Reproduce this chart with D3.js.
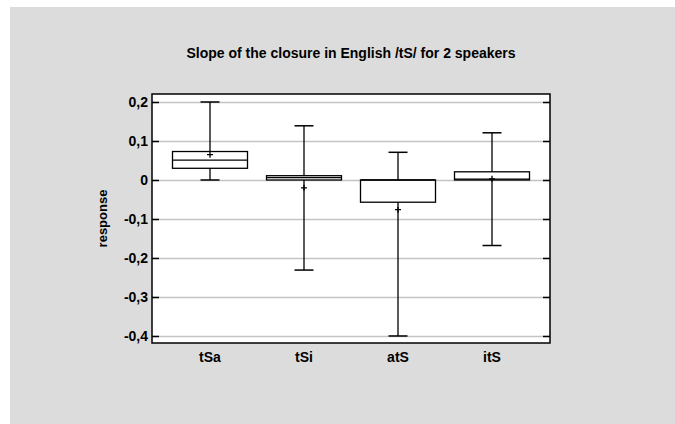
<!DOCTYPE html>
<html>
<head>
<meta charset="utf-8">
<script src="https://cdn.jsdelivr.net/npm/d3@7"></script>
<style>
  body { margin: 0; background: #fff; }
  text { font-family: "Liberation Sans", Arial, sans-serif; font-weight: bold; }
</style>
</head>
<body>
<div id="vis"></div>
<script>
// Data
const categories = ["tSa", "tSi", "atS", "itS"];
const whiskerLow  = [0.000, -0.231, -0.400, -0.168];
const q1Values    = [0.030,  0.000, -0.057,  0.000];
const medians     = [0.051,  0.006,  0.000,  0.002];
const q3Values    = [0.073,  0.011,  0.000,  0.021];
const whiskerHigh = [0.200,  0.139,  0.071,  0.121];
const means       = [0.065, -0.020, -0.076,  0.003];
const yTicks = [-0.4, -0.3, -0.2, -0.1, 0, 0.1, 0.2];

const boxes = categories.map((c, i) => ({
  cat: c, lo: whiskerLow[i], q1: q1Values[i], med: medians[i],
  q3: q3Values[i], hi: whiskerHigh[i], mean: means[i]
}));

const width = 675, height = 424;
const plot = { left: 152, right: 550, top: 94, bottom: 343 };

const svg = d3.select("#vis").append("svg")
  .attr("width", width)
  .attr("height", height);

// grey panel
svg.append("rect")
  .attr("x", 10).attr("y", 7)
  .attr("width", width - 10).attr("height", height - 7)
  .attr("fill", "#dcdcdc");

const x = d3.scalePoint()
  .domain(categories)
  .range([plot.left, plot.right])
  .padding(0.617);

const y = d3.scaleLinear()
  .domain([-0.418, 0.2205])
  .range([plot.bottom, plot.top]);

const fmt = v => v === 0 ? "0" : d3.format(".1f")(v).replace(".", ",").replace("−", "-");

// plot background
svg.append("rect")
  .attr("x", plot.left).attr("y", plot.top)
  .attr("width", plot.right - plot.left).attr("height", plot.bottom - plot.top)
  .attr("fill", "#fff");

// grid
svg.append("g")
  .selectAll("line")
  .data(yTicks)
  .enter().append("line")
  .attr("x1", plot.left).attr("x2", plot.right)
  .attr("y1", d => Math.round(y(d)) + 0.5).attr("y2", d => Math.round(y(d)) + 0.5)
  .attr("stroke", "#c4c4c4")
  .attr("stroke-width", 1.3);

// y axis left, ticks inward
const yAxis = svg.append("g")
  .attr("transform", `translate(${plot.left},0)`)
  .call(d3.axisRight(y).tickValues(yTicks).tickSize(7).tickFormat(""));
yAxis.select(".domain").remove();
yAxis.selectAll("line").attr("stroke", "#000").attr("stroke-width", 1.5);

svg.append("g")
  .selectAll("text")
  .data(yTicks)
  .enter().append("text")
  .attr("x", plot.left - 4)
  .attr("y", d => y(d))
  .attr("dy", "0.36em")
  .attr("text-anchor", "end")
  .attr("font-size", "14px")
  .attr("fill", "#000")
  .text(fmt);

// right ticks inward
const yAxisR = svg.append("g")
  .attr("transform", `translate(${plot.right},0)`)
  .call(d3.axisLeft(y).tickValues(yTicks).tickSize(7).tickFormat(""));
yAxisR.select(".domain").remove();
yAxisR.selectAll("line").attr("stroke", "#000").attr("stroke-width", 1.5);

// x labels
svg.append("g")
  .selectAll("text")
  .data(categories)
  .enter().append("text")
  .attr("x", d => x(d))
  .attr("y", 362)
  .attr("text-anchor", "middle")
  .attr("font-size", "14px")
  .attr("fill", "#000")
  .text(d => d);

// boxes
const boxW = 75, capW = 19;
const g = svg.append("g").selectAll("g.box")
  .data(boxes)
  .enter().append("g")
  .attr("class", "box");

g.append("line")
  .attr("x1", d => x(d.cat)).attr("x2", d => x(d.cat))
  .attr("y1", d => y(d.hi)).attr("y2", d => y(d.lo))
  .attr("stroke", "#000").attr("stroke-width", 1.3);

g.selectAll("line.cap")
  .data(d => [{ c: d.cat, v: d.hi }, { c: d.cat, v: d.lo }])
  .enter().append("line")
  .attr("class", "cap")
  .attr("x1", d => x(d.c) - capW / 2).attr("x2", d => x(d.c) + capW / 2)
  .attr("y1", d => y(d.v)).attr("y2", d => y(d.v))
  .attr("stroke", "#000").attr("stroke-width", 1.5);

g.append("rect")
  .attr("x", d => x(d.cat) - boxW / 2)
  .attr("y", d => y(d.q3))
  .attr("width", boxW)
  .attr("height", d => Math.max(y(d.q1) - y(d.q3), 0.5))
  .attr("fill", "#fff")
  .attr("stroke", "#000").attr("stroke-width", 1.3);

g.append("line")
  .attr("x1", d => x(d.cat) - boxW / 2).attr("x2", d => x(d.cat) + boxW / 2)
  .attr("y1", d => y(d.med)).attr("y2", d => y(d.med))
  .attr("stroke", "#000").attr("stroke-width", 1.3);

// mean markers
g.append("path")
  .attr("d", d => {
    const cx = x(d.cat), cy = y(d.mean);
    return `M${cx - 3},${cy}H${cx + 3}M${cx},${cy - 3}V${cy + 3}`;
  })
  .attr("stroke", "#000").attr("stroke-width", 1.3);

// plot border
svg.append("rect")
  .attr("x", plot.left).attr("y", plot.top)
  .attr("width", plot.right - plot.left).attr("height", plot.bottom - plot.top)
  .attr("fill", "none")
  .attr("stroke", "#000").attr("stroke-width", 1.5);

// title
svg.append("text")
  .attr("x", (plot.left + plot.right) / 2)
  .attr("y", 57.5)
  .attr("text-anchor", "middle")
  .attr("font-size", "14px")
  .attr("fill", "#000")
  .text("Slope of the closure in English /tS/ for 2 speakers");

// y label
svg.append("text")
  .attr("transform", `translate(107,${(plot.top + plot.bottom) / 2}) rotate(-90)`)
  .attr("text-anchor", "middle")
  .attr("font-size", "13px")
  .attr("fill", "#000")
  .text("response");
</script>
</body>
</html>
